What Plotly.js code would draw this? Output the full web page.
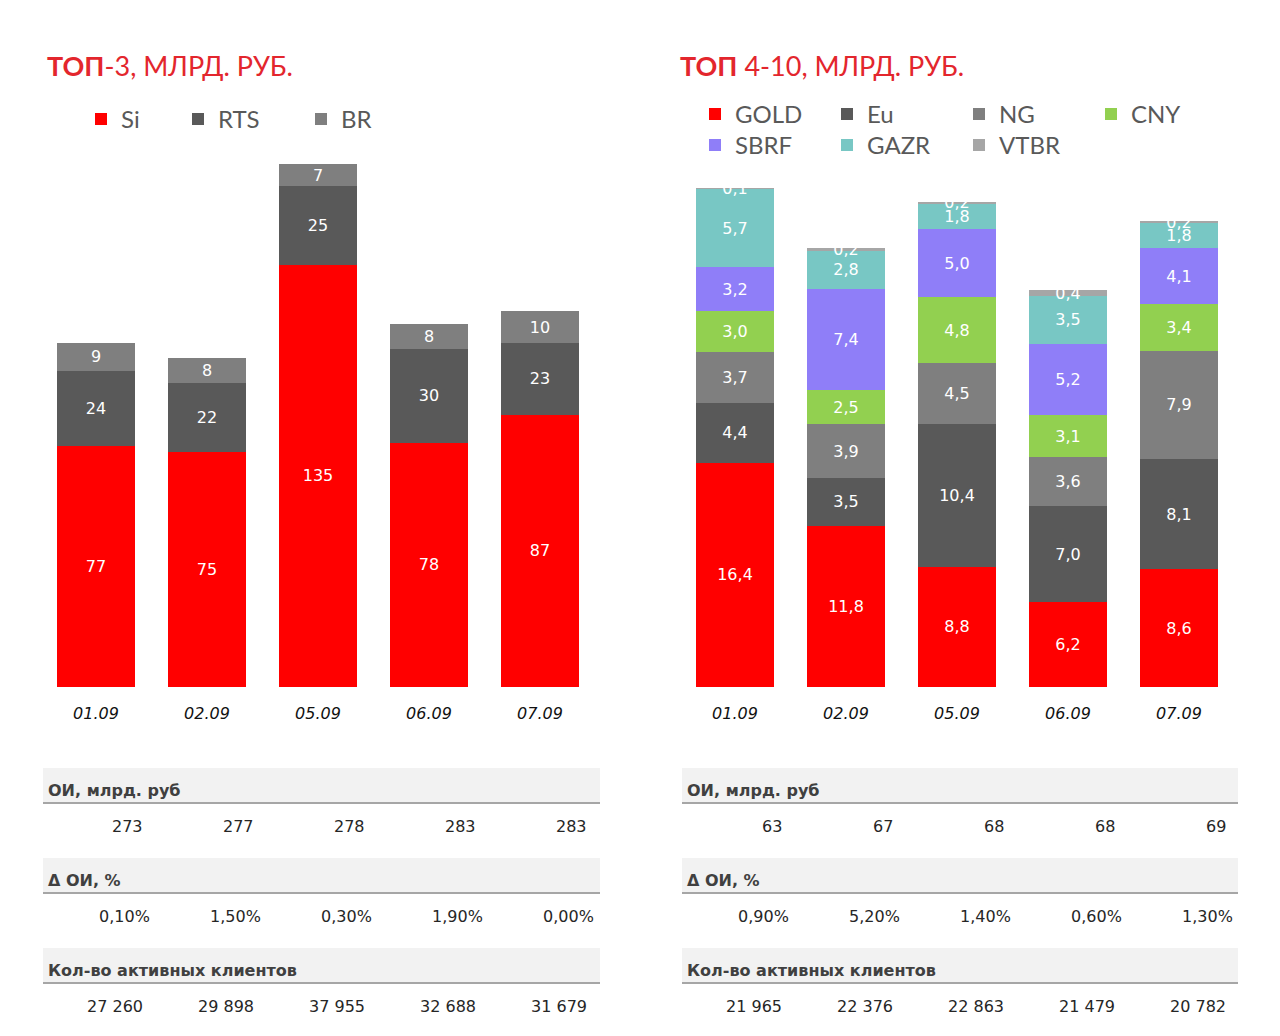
<!DOCTYPE html>
<html><head><meta charset="utf-8">
<script src="https://cdn.plot.ly/plotly-3.0.1.min.js"></script>
<style>html,body{margin:0;padding:0;background:#fff}</style>
</head><body><div id="chart" style="width:1280px;height:1036px"></div>
<script>
// ---- data ----
const dates = ['01.09','02.09','05.09','06.09','07.09'];
const si   = [77, 75, 135, 78, 87];
const rts  = [24, 22, 25, 30, 23];
const br   = [9, 8, 7, 8, 10];
const gold = [16.4, 11.8, 8.8, 6.2, 8.6];
const eu   = [4.4, 3.5, 10.4, 7.0, 8.1];
const ng   = [3.7, 3.9, 4.5, 3.6, 7.9];
const cny  = [3.0, 2.5, 4.8, 3.1, 3.4];
const sbrf = [3.2, 7.4, 5.0, 5.2, 4.1];
const gazr = [5.7, 2.8, 1.8, 3.5, 1.8];
const vtbr = [0.1, 0.2, 0.2, 0.4, 0.2];
const oiLeft = [273, 277, 278, 283, 283];
const dOiLeft = [0.10, 1.50, 0.30, 1.90, 0.00];
const clientsLeft = [27260, 29898, 37955, 32688, 31679];
const oiRight = [63, 67, 68, 68, 69];
const dOiRight = [0.90, 5.20, 1.40, 0.60, 1.30];
const clientsRight = [21965, 22376, 22863, 21479, 20782];
const rowTitles = ['ОИ, млрд. руб', 'Δ ОИ, %', 'Кол-во активных клиентов'];
const titleLeft = '<b>ТОП</b>-3, МЛРД. РУБ.';
const titleRight = '<b>ТОП</b> 4-10, МЛРД. РУБ.';

// ---- helpers ----
const W = 1280, H = 1036;
const X = px => px / W;
const Y = py => 1 - py / H;
const fmtInt = n => String(n).replace(/\B(?=(\d{3})+(?!\d))/g, ' ');
const fmtPct = n => n.toFixed(2).replace('.', ',') + '%';

function bar(name, y, color, xa, ya, leg, tmpl) {
  return {
    type: 'bar', name: name, x: dates, y: y, xaxis: xa, yaxis: ya, legend: leg,
    marker: {color: color, line: {width: 0}},
    texttemplate: tmpl, textposition: 'inside', insidetextanchor: 'middle',
    textangle: 0, constraintext: 'none',
    textfont: {family: 'DejaVu Sans', size: 16, color: '#ffffff'},
    hoverinfo: 'skip'
  };
}

const traces = [
  bar('Si', si, '#FF0000', 'x', 'y', 'legend', '%{y}'),
  bar('RTS', rts, '#595959', 'x', 'y', 'legend4', '%{y}'),
  bar('BR', br, '#7F7F7F', 'x', 'y', 'legend5', '%{y}'),
  bar('GOLD', gold, '#FF0000', 'x2', 'y2', 'legend2', '%{y:.1f}'),
  bar('Eu', eu, '#595959', 'x2', 'y2', 'legend2', '%{y:.1f}'),
  bar('NG', ng, '#7F7F7F', 'x2', 'y2', 'legend2', '%{y:.1f}'),
  bar('CNY', cny, '#92D050', 'x2', 'y2', 'legend2', '%{y:.1f}'),
  bar('SBRF', sbrf, '#8F7EF8', 'x2', 'y2', 'legend3', '%{y:.1f}'),
  bar('GAZR', gazr, '#78C7C4', 'x2', 'y2', 'legend3', '%{y:.1f}'),
  bar('VTBR', vtbr, '#A6A6A6', 'x2', 'y2', 'legend3', '%{y:.1f}')
];

// ---- tables (shapes + annotations) ----
const shapes = [], annotations = [];
const tables = [
  {off: 0, x0: 43, x1: 600, rows: [oiLeft.map(fmtInt), dOiLeft.map(fmtPct), clientsLeft.map(fmtInt)]},
  {off: 639, x0: 682, x1: 1238, rows: [oiRight.map(fmtInt), dOiRight.map(fmtPct), clientsRight.map(fmtInt)]}
];
const bandTops = [768, 858, 948];
tables.forEach(t => {
  rowTitles.forEach((rt, r) => {
    const top = bandTops[r];
    shapes.push({type: 'rect', xref: 'paper', yref: 'paper', x0: X(t.x0), x1: X(t.x1),
      y0: Y(top), y1: Y(top + 35), fillcolor: '#F2F2F2', line: {width: 0}, layer: 'below'});
    shapes.push({type: 'line', xref: 'paper', yref: 'paper', x0: X(t.x0), x1: X(t.x1),
      y0: Y(top + 35), y1: Y(top + 35), line: {color: '#A6A6A6', width: 2}});
    annotations.push({xref: 'paper', yref: 'paper', x: X(t.x0 + 3), y: Y(top + 22),
      xanchor: 'left', yanchor: 'middle', showarrow: false, text: '<b>' + rt + '</b>',
      font: {family: 'DejaVu Sans', size: 16, color: '#404040'}});
    t.rows[r].forEach((v, i) => {
      const right = (r === 1 ? 152 : 145) + 111 * i + t.off;
      annotations.push({xref: 'paper', yref: 'paper', x: X(right), y: Y(top + 58),
        xanchor: 'right', yanchor: 'middle', showarrow: false, text: v,
        font: {family: 'DejaVu Sans', size: 16, color: '#262626'}});
    });
  });
});

annotations.push({xref: 'paper', yref: 'paper', x: X(45), y: Y(65), xanchor: 'left', yanchor: 'middle',
  showarrow: false, text: titleLeft, font: {family: 'Lato', size: 27, color: '#E3262D'}});
annotations.push({xref: 'paper', yref: 'paper', x: X(678), y: Y(65), xanchor: 'left', yanchor: 'middle',
  showarrow: false, text: titleRight, font: {family: 'Lato', size: 27, color: '#E3262D'}});

const xTick = {family: 'DejaVu Sans', size: 16, color: '#111111', style: 'italic'};
const legFont = {family: 'Lato', size: 24, color: '#595959'};
function leg(px, py, ew) {
  return {x: X(px), y: Y(py), xanchor: 'left', yanchor: 'top', orientation: 'h', entrywidth: ew,
    traceorder: 'normal', bgcolor: 'rgba(0,0,0,0)', borderwidth: 0, font: legFont};
}
const layout = {
  width: W, height: H,
  margin: {l: 0, r: 0, t: 0, b: 0},
  paper_bgcolor: '#ffffff', plot_bgcolor: '#ffffff',
  barmode: 'stack', bargap: 0.3,
  separators: ', ',
  showlegend: true,
  xaxis: {domain: [X(40.5), X(595.5)], anchor: 'y', type: 'category', showgrid: false, zeroline: false,
    showline: false, ticks: '', tickfont: xTick, ticklabelstandoff: 15, fixedrange: true},
  yaxis: {domain: [Y(687), Y(155)], anchor: 'x', range: [0, 170], visible: false, fixedrange: true},
  xaxis2: {domain: [X(679.5), X(1234.5)], anchor: 'y2', type: 'category', showgrid: false, zeroline: false,
    showline: false, ticks: '', tickfont: xTick, ticklabelstandoff: 15, fixedrange: true},
  yaxis2: {domain: [Y(687), Y(155)], anchor: 'x2', range: [0, 38.9], visible: false, fixedrange: true},
  legend: leg(84, 95, 0),
  legend4: leg(181, 95, 0),
  legend5: leg(303, 95, 0),
  legend2: leg(698, 89, 87),
  legend3: leg(698, 121, 87),
  shapes: shapes,
  annotations: annotations
};

// desired legend symbol positions (left edge x, centre y) in pixels
const legendTargets = {
  legend: [95, 119], legend4: [192, 119], legend5: [315, 119],
  legend2: [709, 114], legend3: [709, 145]
};

Plotly.newPlot('chart', traces, layout, {displayModeBar: false, staticPlot: true}).then(gd => {
  const upd = {};
  const box = gd.getBoundingClientRect();
  Object.keys(legendTargets).forEach(id => {
    try {
      const g = gd.querySelector('g.' + id);
      if (!g) return;
      const p = g.querySelector('.legendpoints path');
      if (!p) return;
      const r = p.getBoundingClientRect();
      const dx = legendTargets[id][0] - (r.left - box.left);
      const dy = legendTargets[id][1] - ((r.top + r.bottom) / 2 - box.top);
      upd[id + '.x'] = layout[id].x + dx / W;
      upd[id + '.y'] = layout[id].y - dy / H;
    } catch (e) {}
  });
  if (Object.keys(upd).length) return Plotly.relayout(gd, upd);
});
</script></body></html>
